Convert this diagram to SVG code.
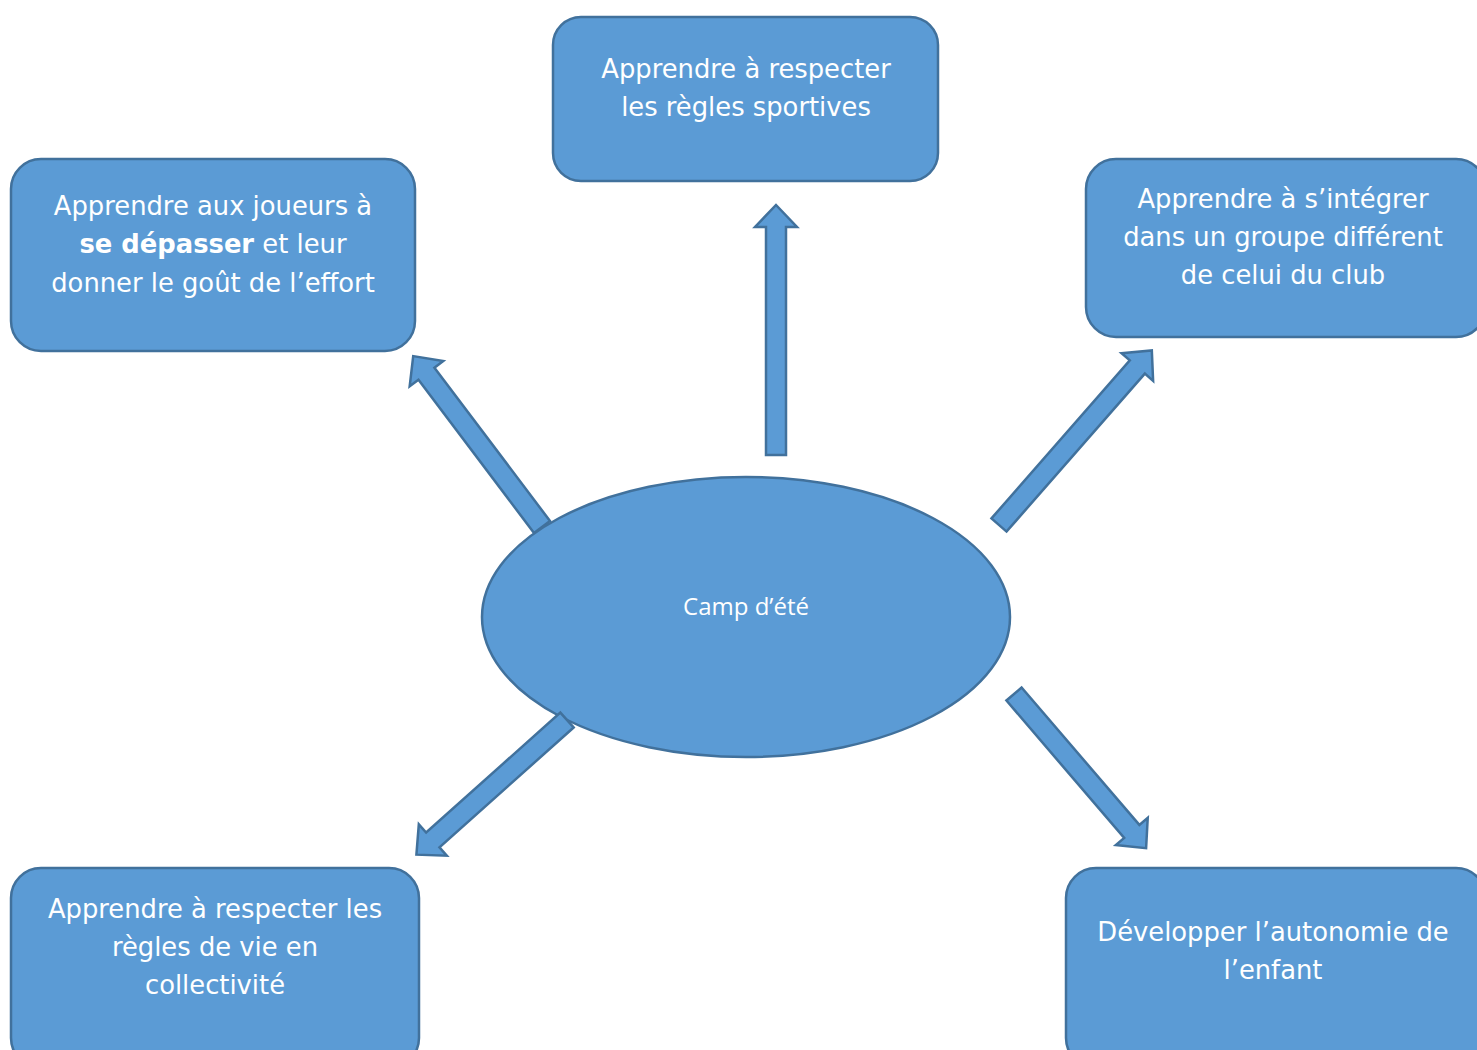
<svg xmlns="http://www.w3.org/2000/svg" width="1477" height="1050" viewBox="0 0 1477 1050">
<style>
.box{fill:#5b9bd5;stroke:#41719c;stroke-width:2.5}
.arr{fill:#5b9bd5;stroke:#41719c;stroke-width:2.5;stroke-linejoin:miter}
.t{font-family:"DejaVu Sans",Verdana,sans-serif;font-size:25.8px;fill:#ffffff;text-anchor:middle}
.c{font-family:"Open Sans","Liberation Sans",sans-serif;font-size:24px;fill:#ffffff;text-anchor:middle}
</style>
<rect width="1477" height="1050" fill="#ffffff"/>
<g id="connectors">
<path class="arr" transform="translate(776,455) rotate(-90)" d="M0,-10 L228,-10 L228,-21 L250,0 L228,21 L228,10 L0,10 Z"/>
<path class="arr" transform="translate(542,527) rotate(-127)" d="M0,-10 L192,-10 L192,-21 L214,0 L192,21 L192,10 L0,10 Z"/>
<path class="arr" transform="translate(999,525) rotate(-48.8)" d="M0,-10 L210,-10 L210,-21 L232,0 L210,21 L210,10 L0,10 Z"/>
<path class="arr" transform="translate(1014,694) rotate(49.4)" d="M0,-10 L181,-10 L181,-21 L203,0 L181,21 L181,10 L0,10 Z"/>
</g>
<g id="center">
<ellipse class="box" cx="746" cy="617" rx="264" ry="140"/>
<text class="c" x="746" y="615">Camp d’été</text>
</g>
<g id="connectors-front">
<path class="arr" transform="translate(567,720) rotate(138.2)" d="M0,-10 L180,-10 L180,-21 L202,0 L180,21 L180,10 L0,10 Z"/>
</g>
<g id="top">
<rect class="box" x="553" y="17" width="385" height="164" rx="28"/>
<text class="t" x="746" y="78">Apprendre à respecter</text>
<text class="t" x="746" y="116">les règles sportives</text>
</g>
<g id="left">
<rect class="box" x="11" y="159" width="404" height="192" rx="30"/>
<text class="t" x="213" y="215">Apprendre aux joueurs à</text>
<text class="t" x="213" y="253"><tspan font-weight="bold">se dépasser</tspan> et leur</text>
<text class="t" x="213" y="292">donner le goût de l’effort</text>
</g>
<g id="right">
<rect class="box" x="1086" y="159" width="400" height="178" rx="30"/>
<text class="t" x="1283" y="208">Apprendre à s’intégrer</text>
<text class="t" x="1283" y="246">dans un groupe différent</text>
<text class="t" x="1283" y="284">de celui du club</text>
</g>
<g id="bottom-left">
<rect class="box" x="11" y="868" width="408" height="200" rx="30"/>
<text class="t" x="215" y="918">Apprendre à respecter les</text>
<text class="t" x="215" y="956">règles de vie en</text>
<text class="t" x="215" y="994">collectivité</text>
</g>
<g id="bottom-right">
<rect class="box" x="1066" y="868" width="420" height="200" rx="30"/>
<text class="t" x="1273" y="941">Développer l’autonomie de</text>
<text class="t" x="1273" y="979">l’enfant</text>
</g>
</svg>
